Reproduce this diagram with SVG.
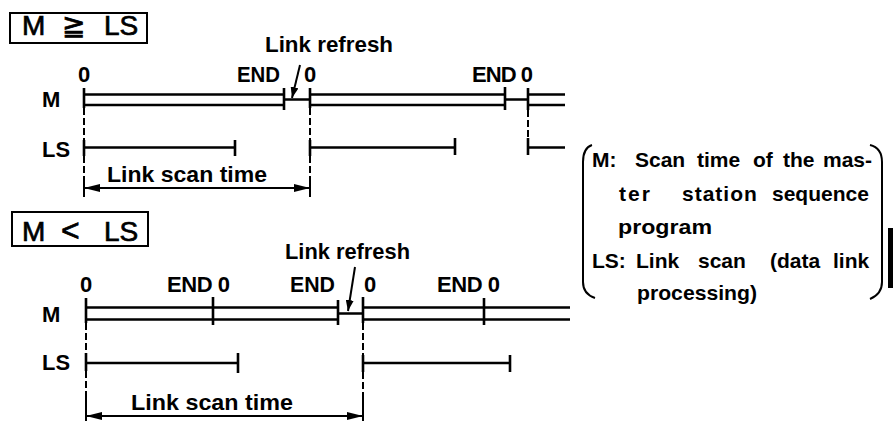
<svg xmlns="http://www.w3.org/2000/svg" width="893" height="421" viewBox="0 0 893 421">
<style>
text{font-family:"Liberation Sans","DejaVu Sans",Arial,sans-serif;font-weight:bold;fill:#000;}
.t{font-size:22px}
.h{font-size:28px;font-weight:normal;stroke:#000;stroke-width:0.7}
.lg{font-size:21px}
.ln{stroke:#000;stroke-width:2.4;fill:none}
.tk{stroke:#000;stroke-width:2.6;fill:none}
.ds{stroke:#000;stroke-width:2;fill:none;stroke-dasharray:7,3}
.sv{stroke:#000;stroke-width:2;fill:none}
.box{stroke:#000;stroke-width:2;fill:none}
.ar{stroke:#000;stroke-width:2.2;fill:none;marker-start:url(#ah);marker-end:url(#ah)}
.ra{stroke:#000;stroke-width:2;fill:none;marker-end:url(#rh)}
</style>
<defs>
<marker id="ah" viewBox="0 0 16 8" refX="16" refY="4" markerWidth="16" markerHeight="8" markerUnits="userSpaceOnUse" orient="auto-start-reverse"><path d="M0,0 L16,4 L0,8 z" fill="#000"/></marker>
<marker id="rh" viewBox="0 0 11 8" refX="11" refY="4" markerWidth="11" markerHeight="8" markerUnits="userSpaceOnUse" orient="auto"><path d="M0,0 L11,4 L0,8 z" fill="#000"/></marker>
</defs>

<g id="top-case">
<rect class="box" x="10" y="13" width="137" height="30"/>
<text class="h" y="35"><tspan x="22">M</tspan><tspan x="62">≧</tspan><tspan x="104">LS</tspan></text>

<text class="t" x="265" y="52" textLength="128" lengthAdjust="spacingAndGlyphs">Link refresh</text>
<text class="t" x="78" y="82">0</text>
<text class="t" x="237" y="82" textLength="43" lengthAdjust="spacingAndGlyphs">END</text>
<text class="t" x="304" y="82">0</text>
<text class="t" x="472" y="82" textLength="61" lengthAdjust="spacing">END 0</text>
<text class="t" x="42" y="107">M</text>
<text class="t" x="42" y="157" textLength="28" lengthAdjust="spacingAndGlyphs">LS</text>
<text class="t" x="107" y="182" textLength="160" lengthAdjust="spacingAndGlyphs">Link scan time</text>
</g>

<g id="top-timeline">
<path class="ln" d="M84,94.5H284 M84,105H284 M310,94.5H505 M310,105H505 M528,94.5H565 M528,105H565 M284,99.5H310 M505,99.5H528"/>
<path class="tk" d="M84,88V108 M284,88V110 M310,88V108 M505,87V110 M528,88V110"/>
<path class="ln" d="M84,147.5H235 M310,147.5H455 M528,147.5H565"/>
<path class="tk" d="M84,140V156 M235,140V156 M310,140V156 M455,138V155 M528,138V155"/>
</g>

<g id="top-connectors">
<path class="ds" d="M84,108V140 M84,156V176 M310,108V140 M310,156V176 M528,110V138"/>
<path class="sv" d="M84,176V197 M310,176V197"/>
<line class="ar" x1="84" y1="188" x2="310" y2="188"/>
<line class="ra" x1="300" y1="65" x2="292" y2="98"/>
</g>

<g id="bottom-case">
<rect class="box" x="12" y="212" width="136" height="34"/>
<text class="h" y="241"><tspan x="22">M</tspan><tspan x="61" font-size="32">&lt;</tspan><tspan x="104">LS</tspan></text>

<text class="t" x="285" y="259" textLength="125" lengthAdjust="spacingAndGlyphs">Link refresh</text>
<text class="t" x="80" y="292">0</text>
<text class="t" x="167" y="292" textLength="63" lengthAdjust="spacing">END 0</text>
<text class="t" x="290" y="292" textLength="45" lengthAdjust="spacingAndGlyphs">END</text>
<text class="t" x="364" y="292">0</text>
<text class="t" x="437" y="292" textLength="63" lengthAdjust="spacing">END 0</text>
<text class="t" x="42" y="322">M</text>
<text class="t" x="42" y="370" textLength="28" lengthAdjust="spacingAndGlyphs">LS</text>
<text class="t" x="131" y="410" textLength="162" lengthAdjust="spacingAndGlyphs">Link scan time</text>
</g>

<g id="bottom-timeline">
<path class="ln" d="M86,307.5H338 M86,319.5H338 M363,307.5H570 M363,319.5H570 M338,313.5H363"/>
<path class="tk" d="M86,298V323 M213,297V325 M338,300V325 M363,297V323 M484,298V325"/>
<path class="ln" d="M86,363H238 M363,363H510"/>
<path class="tk" d="M86,353V371 M238,353V373 M363,355V372 M510,355V372"/>
</g>

<g id="bottom-connectors">
<path class="ds" d="M86,323V353 M86,371V393 M363,323V355 M363,372V393"/>
<path class="sv" d="M86,393V421 M363,393V421"/>
<line class="ar" x1="86" y1="416" x2="363" y2="416"/>
<line class="ra" x1="355" y1="267" x2="348" y2="311"/>
</g>

<g id="legend">
<path class="box" d="M592,145 Q583,148 583,162 L583,282 Q583,294 595,298"/>
<path class="box" d="M870,145 Q882,148 882,162 L882,282 Q882,294 870,299"/>
<text class="lg" y="167"><tspan x="592">M:</tspan><tspan x="635">Scan</tspan><tspan x="697">time</tspan><tspan x="753">of</tspan><tspan x="783">the</tspan><tspan x="823">mas-</tspan></text>
<text class="lg" y="201"><tspan x="619" letter-spacing="2">ter</tspan><tspan x="682" letter-spacing="1">station</tspan><tspan x="772">sequence</tspan></text>
<text class="lg" x="618" y="234" textLength="94" lengthAdjust="spacingAndGlyphs">program</text>
<text class="lg" y="268"><tspan x="592">LS:</tspan><tspan x="636">Link</tspan><tspan x="698">scan</tspan><tspan x="770">(data</tspan><tspan x="833">link</tspan></text>
<text class="lg" x="637" y="300" textLength="120" lengthAdjust="spacingAndGlyphs">processing)</text>
<rect x="888" y="228" width="5" height="60" fill="#000"/>
</g>
</svg>
